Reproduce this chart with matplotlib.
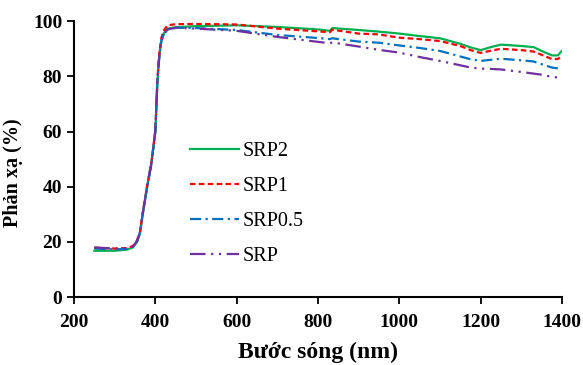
import matplotlib
matplotlib.use("Agg")
import matplotlib.pyplot as plt

wavelength = [250, 300, 330, 345, 355, 362, 370, 380, 390, 400, 405, 410, 415, 420, 430, 450,
              500, 600, 700, 800, 829, 835, 900, 950, 1000, 1050, 1100, 1150, 1175, 1200,
              1225, 1250, 1300, 1330, 1350, 1375, 1390, 1400]

srp2 = [16.8, 16.8, 17.2, 18.0, 20.0, 23.0, 31.0, 40.0, 48.0, 60.0, 78.0, 88.0, 93.0, 95.5, 97.3, 97.8,
        98.2, 98.5, 97.9, 97.0, 96.5, 97.5, 96.8, 96.2, 95.5, 94.6, 93.8, 91.8, 90.5, 89.5,
        90.6, 91.5, 91.0, 90.6, 89.2, 87.6, 87.6, 89.3]
srp1 = [17.9, 17.6, 17.8, 18.5, 20.5, 23.5, 31.5, 40.5, 48.5, 60.5, 79.0, 89.0, 94.0, 96.5, 98.5, 98.9,
        99.0, 98.8, 97.3, 96.3, 96.0, 96.9, 95.5, 95.2, 94.0, 93.5, 92.8, 91.0, 89.5, 88.5,
        89.3, 90.0, 89.5, 89.0, 87.8, 86.3, 86.3, 87.5]
srp05 = [17.6, 17.3, 17.5, 18.3, 20.3, 23.3, 31.3, 40.3, 48.3, 60.2, 78.5, 88.0, 93.0, 95.0, 97.0, 97.6,
         97.5, 96.8, 95.0, 93.9, 93.5, 93.8, 92.6, 92.2, 91.2, 90.3, 89.2, 87.2, 86.2, 85.6,
         86.0, 86.4, 85.8, 85.4, 84.4, 83.2, 82.9, 83.2]
srp = [18.0, 17.6, 17.7, 18.4, 20.4, 23.4, 31.4, 40.4, 48.4, 60.3, 78.5, 88.0, 93.0, 95.0, 97.0, 97.6,
       97.3, 96.5, 94.3, 92.5, 92.0, 92.3, 90.8, 89.6, 88.6, 87.0, 85.6, 84.0, 83.2, 82.8,
       82.7, 82.5, 81.6, 81.0, 80.6, 79.8, 79.6, 79.8]

labels = ["SRP2", "SRP1", "SRP0.5", "SRP"]
x_ticks = [200, 400, 600, 800, 1000, 1200, 1400]
y_ticks = [0, 20, 40, 60, 80, 100]

plt.rcParams['font.family'] = ['Liberation Serif', 'DejaVu Serif']

fig = plt.figure(figsize=(5.83, 3.65), dpi=100)
ax = fig.add_axes([0.127, 0.186, 0.837, 0.756])

ax.plot(wavelength, srp2, color='#00B050', lw=1.6, ls='-', label=labels[0])
ax.plot(wavelength, srp1, color='#FF0000', lw=1.6, dashes=(2.5, 1.5), label=labels[1])
ax.plot(wavelength, srp05, color='#0070C0', lw=1.6, dashes=(5, 2, 1, 2), label=labels[2])
ax.plot(wavelength, srp, color='#7030A0', lw=1.6, dashes=(7, 2.5, 1, 2.5, 1, 2.5), label=labels[3])

ax.set_xlim(200, 1400)
ax.set_ylim(0, 100)
ax.set_xticks(x_ticks)
ax.set_yticks(y_ticks)
ax.spines['top'].set_visible(False)
ax.spines['right'].set_visible(False)
for s in ['left', 'bottom']:
    ax.spines[s].set_linewidth(1.5)
ax.tick_params(direction='out', length=5, width=1.3, labelsize=14)
ax.tick_params(axis='x', pad=7)
for lab in ax.get_xticklabels() + ax.get_yticklabels():
    lab.set_fontweight('bold')

ax.set_xlabel('Bước sóng (nm)', fontsize=17, fontweight='bold', labelpad=8)
ax.set_ylabel('Phản xạ (%)', fontsize=14.5, fontweight='bold', labelpad=5)
ax.yaxis.set_label_coords(-0.105, 0.45)

leg = ax.legend(loc='upper left', bbox_to_anchor=(0.326, 0.61), bbox_transform=fig.transFigure,
                frameon=False, fontsize=14.5, handlelength=2.45, handletextpad=0.15,
                labelspacing=0.78, borderpad=0, borderaxespad=0)

fig.savefig('out.png', dpi=100)
